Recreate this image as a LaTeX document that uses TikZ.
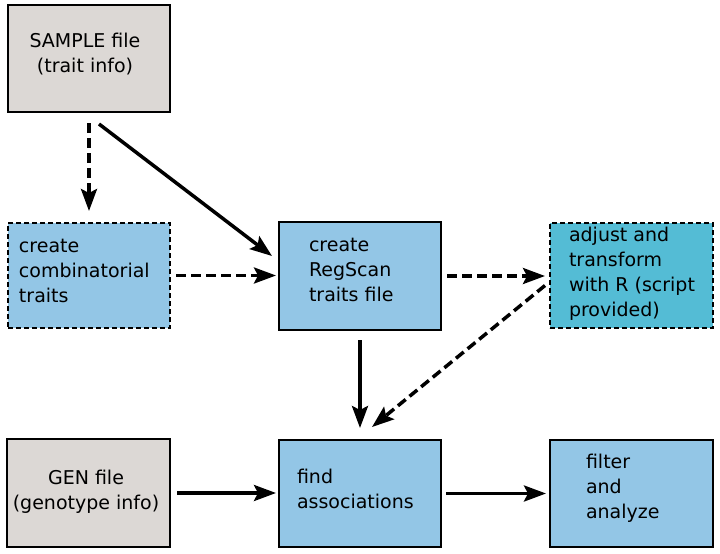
\documentclass[tikz,border=0pt]{standalone}
\usepackage{fontspec}
\setmainfont{DejaVu Sans}
\usetikzlibrary{arrows.meta,calc}
\definecolor{boxgray}{RGB}{220,216,213}
\definecolor{boxblue}{RGB}{147,198,230}
\definecolor{boxteal}{RGB}{84,188,213}
\tikzset{
  box/.style={draw=black, line width=2.4pt, inner sep=0pt, outer sep=0pt, anchor=north west},
  dbox/.style={box, line width=2pt, dash pattern=on 5pt off 3pt},
  txt/.style={inner sep=0pt, outer sep=0pt, font=\fontsize{19}{24.7}\selectfont},
  arr/.style={line width=3.5pt, -{Stealth[length=22pt,width=16pt,inset=4pt]}},
  darr/.style={arr, dash pattern=on 10pt off 5pt},
}
\begin{document}
\begin{tikzpicture}[x=1pt,y=-1pt]
\useasboundingbox[fill=white] (0,0) rectangle (720,554);
% boxes
\node[box, fill=boxgray, minimum width=162pt, minimum height=107pt] (sample) at (8,5) {};
\node[dbox, fill=boxblue, minimum width=162pt, minimum height=105pt] (comb) at (8,223) {};
\node[box, fill=boxblue, minimum width=162pt, minimum height=108pt] (regscan) at (279,222) {};
\node[dbox, fill=boxteal, minimum width=163pt, minimum height=105pt] (adjust) at (550,223) {};
\node[box, fill=boxgray, minimum width=163pt, minimum height=108pt] (gen) at (7,439) {};
\node[box, fill=boxblue, minimum width=162pt, minimum height=107pt] (find) at (279,440) {};
\node[box, fill=boxblue, minimum width=163pt, minimum height=107pt] (filter) at (550,440) {};
% texts (base anchor = baseline of last line)
\node[txt, anchor=base, align=center] (tsample) at (85,72) {SAMPLE file\\(trait info)};
\node[txt, anchor=base west, align=left] (tcomb) at (19,302) {create\\combinatorial\\traits};
\node[txt, anchor=base west, align=left] (treg) at (309,301) {create\\RegScan\\traits file};
\node[txt, anchor=base west, align=left] (tadj) at (569,316) {adjust and\\transform\\with R (script\\provided)};
\node[txt, anchor=base, align=center] (tgen) at (86,509) {GEN file\\(genotype info)};
\node[txt, anchor=base west, align=left] (tfind) at (297,508) {find\\associations};
\node[txt, anchor=base west, align=left] (tfilter) at (586,518) {filter\\and\\analyze};
% connectors
\draw[darr] ($(sample.south west)+(81,11)$) -- ($(comb.north west)+(81,-12)$);
\draw[arr] ($(sample.south west)+(91,12)$) -- ($(regscan.north west)+(-7,34)$);
\draw[darr] ($(comb.east)+(6,0)$) -- ($(comb.east -| regscan.west)+(-3,0)$);
\draw[darr] ($(regscan.east)+(6,0)$) -- ($(regscan.east -| adjust.west)+(-5,0)$);
\draw[arr] ($(regscan.south)+(0,10)$) -- ($(find.north)+(0,-12)$);
\draw[darr] ($(adjust.west)+(-5,10)$) -- ($(find.north)+(12,-13)$);
\draw[arr] ($(gen.east)+(7,0)$) -- ($(gen.east -| find.west)+(-3,0)$);
\draw[arr] ($(find.east)+(5,0)$) -- ($(find.east -| filter.west)+(-4,0)$);
\end{tikzpicture}
\end{document}
